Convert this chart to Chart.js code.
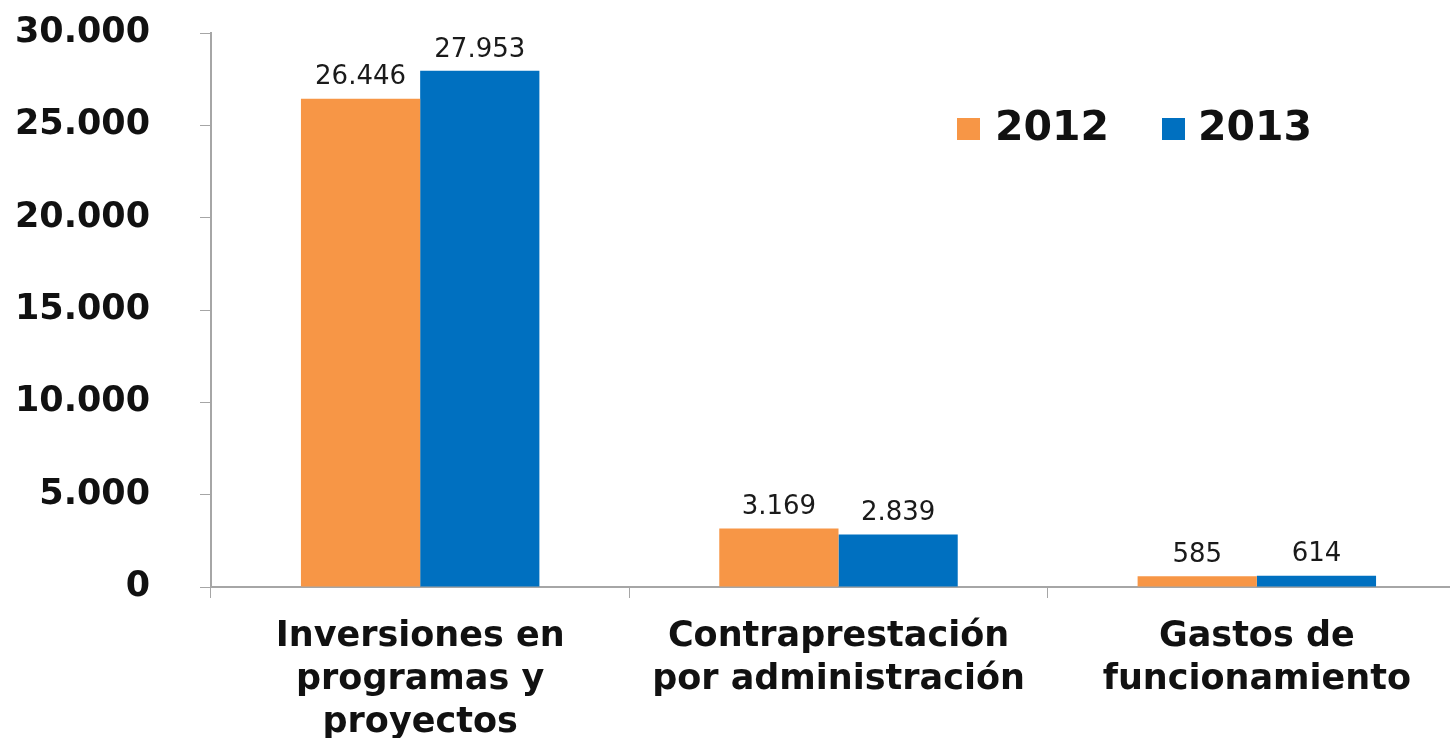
<!DOCTYPE html>
<html>
<head>
<meta charset="utf-8">
<script src="https://cdn.jsdelivr.net/npm/chart.js@4.4.1/dist/chart.umd.min.js"></script>
<style>
  html, body { margin: 0; padding: 0; background: #fff; overflow: hidden; }
  #wrap { width: 1466px; height: 738px; }
</style>
</head>
<body>
<div id="wrap"><canvas id="grafico" width="1466" height="738"></canvas></div>
<script>
const categorias = [
  ["Inversiones en", "programas y", "proyectos"],
  ["Contraprestación", "por administración"],
  ["Gastos de", "funcionamiento"]
];
const anios = ["2012", "2013"];
const valores2012 = [26446, 3169, 585];
const valores2013 = [27953, 2839, 614];
const ticksY = [0, 5000, 10000, 15000, 20000, 25000, 30000];

const colores = ["#F79646", "#0070C0"];
const fuente = "'DejaVu Sans', Verdana, sans-serif";

// separador de miles con punto
const fmt = v => String(v).replace(/\B(?=(\d{3})+(?!\d))/g, ".");

// etiquetas sobre las barras
const etiquetasBarras = {
  id: "etiquetasBarras",
  afterDatasetsDraw(chart) {
    const ctx = chart.ctx;
    ctx.save();
    ctx.font = "26px " + fuente;
    ctx.fillStyle = "#1a1a1a";
    ctx.textAlign = "center";
    ctx.textBaseline = "bottom";
    chart.data.datasets.forEach((ds, i) => {
      chart.getDatasetMeta(i).data.forEach((bar, j) => {
        ctx.fillText(fmt(ds.data[j]), bar.x, bar.y - 8);
      });
    });
    ctx.restore();
  }
};

// leyenda a mano
const leyenda = {
  id: "leyenda",
  afterDraw(chart) {
    const ctx = chart.ctx;
    const xCuadro = [957, 1162];
    const xTexto = [995, 1198];
    ctx.save();
    ctx.font = "bold 41px " + fuente;
    ctx.textBaseline = "middle";
    ctx.textAlign = "left";
    chart.data.datasets.forEach((ds, i) => {
      ctx.fillStyle = ds.backgroundColor;
      ctx.fillRect(xCuadro[i], 118, 23, 22);
      ctx.fillStyle = "#111";
      ctx.fillText(ds.label, xTexto[i], 129);
    });
    ctx.restore();
  }
};

new Chart(document.getElementById("grafico"), {
  type: "bar",
  data: {
    labels: categorias,
    datasets: [
      { label: anios[0], data: valores2012, backgroundColor: colores[0] },
      { label: anios[1], data: valores2013, backgroundColor: colores[1] }
    ]
  },
  options: {
    responsive: false,
    animation: false,
    devicePixelRatio: 1,
    layout: { padding: { top: 33, right: 0, left: 0, bottom: 0 } },
    datasets: { bar: { barPercentage: 1, categoryPercentage: 0.57 } },
    plugins: { legend: { display: false }, tooltip: { enabled: false } },
    scales: {
      x: {
        grid: { drawOnChartArea: false, color: "#a6a6a6", tickLength: 11, offset: true },
        border: { color: "#a6a6a6", width: 2 },
        ticks: {
          color: "#111",
          padding: 17,
          maxRotation: 0,
          autoSkip: false,
          font: { family: fuente, size: 35, weight: "bold", lineHeight: 1.23 }
        },
        afterFit: s => { s.height = 151; s.paddingLeft = 0; s.paddingRight = 0; }
      },
      y: {
        min: 0,
        max: 30000,
        grid: { drawOnChartArea: false, color: "#a6a6a6", tickLength: 11 },
        border: { color: "#a6a6a6", width: 2 },
        afterBuildTicks: s => { s.ticks = ticksY.map(v => ({ value: v })); },
        ticks: {
          color: "#111",
          padding: 50,
          callback: v => fmt(v),
          font: { family: fuente, size: 35, weight: "bold" }
        },
        afterFit: s => { s.width = 211; s.paddingTop = 0; s.paddingBottom = 0; }
      }
    }
  },
  plugins: [etiquetasBarras, leyenda]
});
</script>
</body>
</html>
